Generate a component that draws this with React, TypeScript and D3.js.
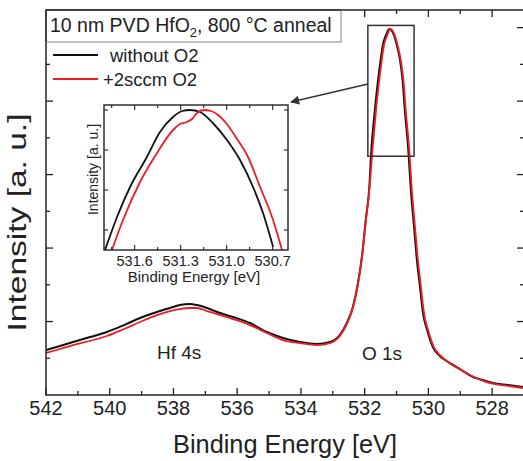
import React from "react";
import * as d3 from "d3";

// ---- Data: [binding energy (eV), intensity (a.u.)] ----
const mainBlack: [number, number][] = [
  [542.0, 0.612], [541.56, 0.667], [541.15, 0.721], [540.62, 0.789], [540.09, 0.857], [539.55, 0.952],
  [539.05, 1.048], [538.52, 1.129], [538.11, 1.184], [537.8, 1.224], [537.48, 1.238], [537.26, 1.224],
  [536.95, 1.184], [536.63, 1.129], [536.13, 1.061], [535.6, 0.98], [535.07, 0.857], [534.56, 0.776],
  [534.03, 0.721], [533.5, 0.694], [533.09, 0.721], [532.78, 0.816], [532.56, 0.98], [532.37, 1.197],
  [532.21, 1.524], [532.08, 1.905], [531.96, 2.408], [531.86, 2.789], [531.79, 3.333], [531.68, 3.878],
  [531.58, 4.286], [531.5, 4.558], [531.43, 4.762], [531.33, 4.898], [531.27, 4.96], [531.21, 4.98],
  [531.15, 4.96], [531.08, 4.898], [530.99, 4.762], [530.89, 4.558], [530.81, 4.286], [530.74, 3.878],
  [530.63, 3.333], [530.55, 2.789], [530.45, 2.286], [530.36, 1.837], [530.26, 1.456], [530.17, 1.116],
  [530.04, 0.884], [529.86, 0.653], [529.64, 0.531], [529.32, 0.435], [529.01, 0.354], [528.6, 0.245],
  [528.29, 0.204], [527.97, 0.163], [527.5, 0.136], [527.03, 0.109],
];

const mainRed: [number, number][] = [
  [542.0, 0.571], [541.56, 0.626], [541.15, 0.68], [540.62, 0.735], [540.09, 0.803], [539.55, 0.898],
  [539.05, 0.993], [538.52, 1.088], [538.11, 1.143], [537.8, 1.17], [537.48, 1.184], [537.26, 1.184],
  [536.95, 1.143], [536.63, 1.102], [536.13, 1.034], [535.6, 0.952], [535.07, 0.844], [534.56, 0.748],
  [534.03, 0.707], [533.5, 0.68], [533.09, 0.707], [532.78, 0.803], [532.56, 0.966], [532.37, 1.184],
  [532.21, 1.51], [532.08, 1.891], [531.96, 2.381], [531.86, 2.762], [531.76, 3.3], [531.65, 3.85],
  [531.55, 4.26], [531.47, 4.54], [531.4, 4.75], [531.3, 4.89], [531.24, 4.955], [531.18, 4.98],
  [531.12, 4.955], [531.05, 4.89], [530.96, 4.75], [530.86, 4.54], [530.78, 4.27], [530.71, 3.87],
  [530.6, 3.33], [530.52, 2.789], [530.42, 2.286], [530.33, 1.837], [530.23, 1.456], [530.14, 1.116],
  [530.01, 0.884], [529.83, 0.653], [529.61, 0.531], [529.29, 0.422], [528.98, 0.34], [528.57, 0.245],
  [528.26, 0.19], [527.94, 0.15], [527.47, 0.122], [527.03, 0.095],
];

const insetBlack: [number, number][] = [
  [531.793, 0.5], [531.715, 1.325], [531.63, 2.075], [531.52, 2.825], [531.435, 3.45], [531.35, 3.825],
  [531.29, 3.975], [531.24, 4.0], [531.174, 3.95], [531.09, 3.675], [530.998, 3.25], [530.913, 2.75],
  [530.828, 2.075], [530.763, 1.425], [530.697, 0.575],
];

const insetRed: [number, number][] = [
  [531.748, 0.5], [531.676, 1.25], [531.565, 2.2], [531.454, 2.925], [531.35, 3.5], [531.304, 3.65],
  [531.259, 3.7], [531.226, 3.775], [531.193, 3.925], [531.148, 4.0], [531.102, 3.975], [531.056, 3.875],
  [531.004, 3.675], [530.932, 3.275], [530.867, 2.875], [530.782, 2.075], [530.704, 1.325], [530.639, 0.5],
];

const xTickLabels = [542, 540, 538, 536, 534, 532, 530, 528];
const insetTickLabels = ["531.6", "531.3", "531.0", "530.7"];
const seriesNames = ["without O2", "+2sccm O2"];
const seriesColors = ["#111111", "#ee1c25"];
const zoomBoxEnergy = [531.9, 530.45];
const zoomBoxIntensity = [3.25, 5.03];

const FONT = "'Liberation Sans', Arial, Helvetica, sans-serif";
const AX = "#222";

export default function App() {
  const W = 523, H = 461;
  const L = 46, R = 524, T = 10, B = 395;
  const x = d3.scaleLinear().domain([542, 527]).range([L, R]);
  const y = d3.scaleLinear().domain([0, 5.24]).range([B, T]);

  const iL = 104, iR = 288, iT = 105, iB = 250;
  const xi = d3.scaleLinear().domain([531.8, 530.6]).range([iL, iR]);
  const yi = d3.scaleLinear().domain([0.5, 4.125]).range([iB, iT]);

  const mainLine = d3.line<[number, number]>().x(d => x(d[0])).y(d => y(d[1])).curve(d3.curveMonotoneX);
  const insetLine = d3.line<[number, number]>().x(d => xi(d[0])).y(d => yi(d[1])).curve(d3.curveMonotoneX);

  const xTicks = d3.range(542, 526.5, -1);
  const yTicks = d3.range(0.5, 5.01, 0.5);
  const insetXTicks = d3.range(531.75, 530.6, -0.15);
  const insetYTicks = [1, 2, 3, 4];

  const zbx0 = x(zoomBoxEnergy[0]), zbx1 = x(zoomBoxEnergy[1]);
  const zby0 = y(zoomBoxIntensity[1]), zby1 = y(zoomBoxIntensity[0]);

  return (
    <svg width={W} height={H} style={{ position: "absolute", left: 0, top: 0, background: "#fff" }} fontFamily={FONT}>
      <defs>
        <clipPath id="mainClip"><rect x={L} y={T} width={R - L} height={B - T} /></clipPath>
        <clipPath id="insetClip"><rect x={iL} y={iT} width={iR - iL} height={iB - iT} /></clipPath>
        <marker id="arrow" viewBox="0 0 10 10" refX="9" refY="5" markerWidth="7" markerHeight="7" orient="auto-start-reverse">
          <path d="M0,0 L10,5 L0,10 z" fill="#333" />
        </marker>
      </defs>

      {/* main curves */}
      <g clipPath="url(#mainClip)">
        <path d={mainLine(mainBlack) || ""} fill="none" stroke={seriesColors[0]} strokeWidth={2} />
        <path d={mainLine(mainRed) || ""} fill="none" stroke={seriesColors[1]} strokeWidth={1.8} />
      </g>

      {/* ticks */}
      {xTicks.map((t, i) => {
        const major = Math.round(t) % 2 === 0;
        const len = major ? 7 : 4;
        return (
          <g key={"xt" + i}>
            <line x1={x(t)} x2={x(t)} y1={B} y2={B - len} stroke={AX} strokeWidth={1.3} />
            <line x1={x(t)} x2={x(t)} y1={T} y2={T + len} stroke={AX} strokeWidth={1.3} />
          </g>
        );
      })}
      {yTicks.map((t, i) => {
        const major = Math.abs(t - Math.round(t)) < 1e-6;
        const len = major ? 7 : 4;
        return (
          <g key={"yt" + i}>
            <line x1={L} x2={L + len} y1={y(t)} y2={y(t)} stroke={AX} strokeWidth={1.3} />
            <line x1={R} x2={R - len} y1={y(t)} y2={y(t)} stroke={AX} strokeWidth={1.3} />
          </g>
        );
      })}

      {/* frame */}
      <rect x={L} y={T} width={R - L} height={B - T} fill="none" stroke={AX} strokeWidth={1.5} />

      {/* x tick labels */}
      {xTickLabels.map((t) => (
        <text key={"xl" + t} x={x(t)} y={415} textAnchor="middle" fontSize={20} fill="#222">{t}</text>
      ))}
      <text x={(L + R) / 2} y={453} textAnchor="middle" fontSize={25} fill="#222" textLength={224} lengthAdjust="spacingAndGlyphs">Binding Energy [eV]</text>
      <text transform={`translate(26,${(T + B) / 2 + 20}) rotate(-90)`} textAnchor="middle" fontSize={25} fill="#222" textLength={218} lengthAdjust="spacingAndGlyphs">Intensity [a. u.]</text>

      {/* title box */}
      <rect x={L} y={T} width={295} height={32} fill="#fff" stroke="#999" strokeWidth={1.2} />
      <text x={50} y={32} fontSize={19.5} fill="#222">
        10 nm PVD HfO<tspan fontSize={13} dy={5}>2</tspan><tspan dy={-5}>, 800 °C anneal</tspan>
      </text>
      <line x1={L} x2={L} y1={T} y2={T + 32} stroke={AX} strokeWidth={1.5} />
      <line x1={L} x2={L + 295} y1={T} y2={T} stroke={AX} strokeWidth={1.5} />

      {/* legend */}
      {seriesNames.map((n, i) => (
        <g key={n}>
          <line x1={53} x2={98} y1={55 + i * 24} y2={55 + i * 24} stroke={seriesColors[i]} strokeWidth={2} />
          <text x={i === 0 ? 110 : 103} y={62 + i * 24} fontSize={18.5} fill="#222">{n}</text>
        </g>
      ))}

      {/* zoom box + arrow */}
      <rect x={zbx0} y={zby0} width={zbx1 - zbx0} height={zby1 - zby0} fill="none" stroke="#333" strokeWidth={1.5} />
      <line x1={zbx0} y1={84} x2={iR + 3} y2={iT - 3} stroke="#333" strokeWidth={1.3} markerEnd="url(#arrow)" />

      {/* inset */}
      <rect x={iL} y={iT} width={iR - iL} height={iB - iT} fill="#fff" stroke="none" />
      <g clipPath="url(#insetClip)">
        <path d={insetLine(insetBlack) || ""} fill="none" stroke={seriesColors[0]} strokeWidth={1.8} />
        <path d={insetLine(insetRed) || ""} fill="none" stroke={seriesColors[1]} strokeWidth={1.8} />
      </g>
      {insetXTicks.map((t, i) => {
        const major = i % 2 === 1;
        const len = major ? 5 : 3;
        return (
          <g key={"ixt" + i}>
            <line x1={xi(t)} x2={xi(t)} y1={iB} y2={iB - len} stroke={AX} strokeWidth={1.1} />
            <line x1={xi(t)} x2={xi(t)} y1={iT} y2={iT + len} stroke={AX} strokeWidth={1.1} />
          </g>
        );
      })}
      {insetYTicks.map((t) => (
        <g key={"iyt" + t}>
          <line x1={iL} x2={iL + 4} y1={yi(t)} y2={yi(t)} stroke={AX} strokeWidth={1.1} />
          <line x1={iR} x2={iR - 4} y1={yi(t)} y2={yi(t)} stroke={AX} strokeWidth={1.1} />
        </g>
      ))}
      <rect x={iL} y={iT} width={iR - iL} height={iB - iT} fill="none" stroke={AX} strokeWidth={1.4} />
      {insetTickLabels.map((t) => (
        <text key={"il" + t} x={xi(+t)} y={266} textAnchor="middle" fontSize={14.5} fill="#222">{t}</text>
      ))}
      <text x={194} y={282} textAnchor="middle" fontSize={15} fill="#222">Binding Energy [eV]</text>
      <text transform={`translate(98,${(iT + iB) / 2 - 8}) rotate(-90)`} textAnchor="middle" fontSize={14} fill="#222">Intensity [a. u.]</text>

      {/* peak labels */}
      <text x={157} y={359} fontSize={19} fill="#222">Hf 4s</text>
      <text x={362} y={360} fontSize={19} fill="#222">O 1s</text>
    </svg>
  );
}
